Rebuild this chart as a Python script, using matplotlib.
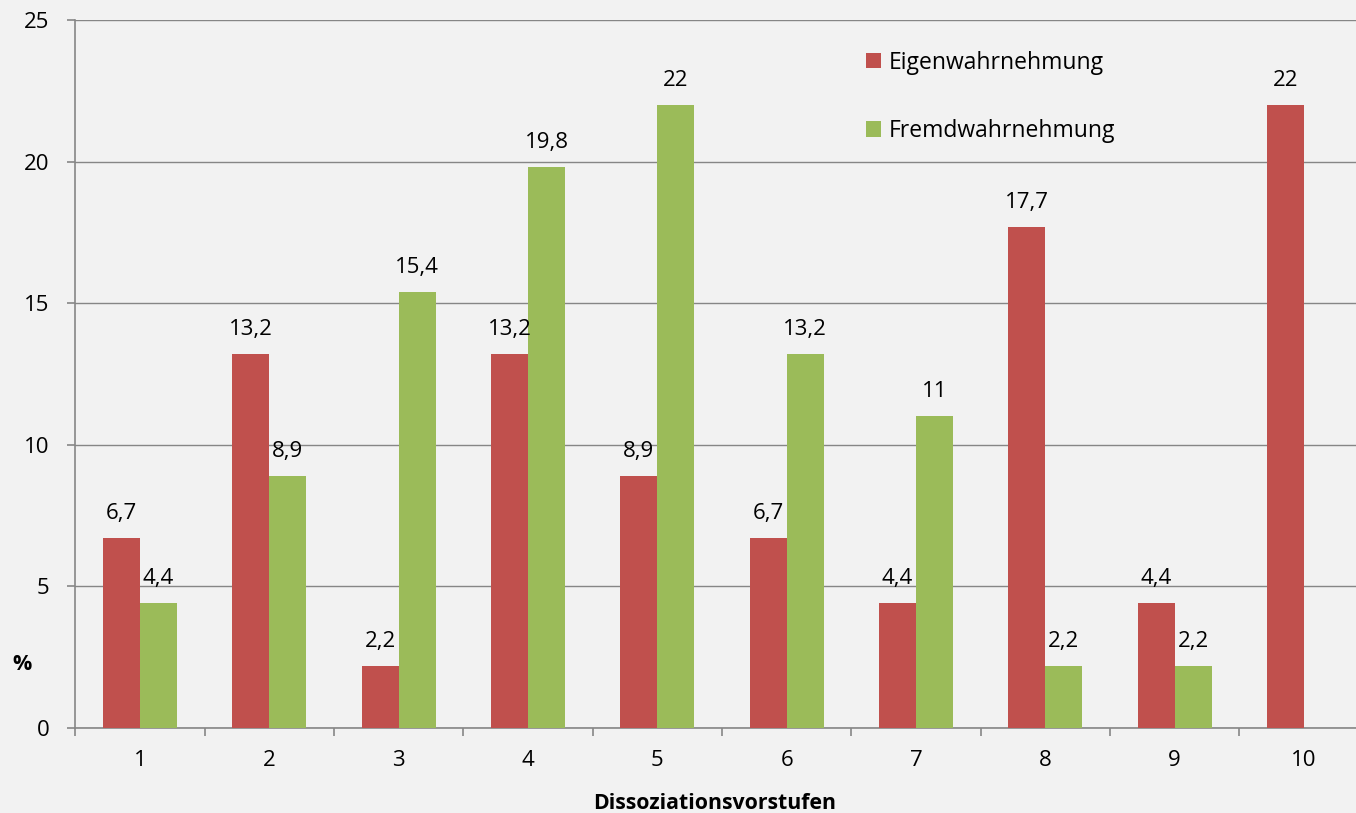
import matplotlib
matplotlib.use("Agg")
import matplotlib.pyplot as plt
from matplotlib.patches import Patch
import numpy as np

categories = ["1", "2", "3", "4", "5", "6", "7", "8", "9", "10"]
eigen = [6.7, 13.2, 2.2, 13.2, 8.9, 6.7, 4.4, 17.7, 4.4, 22]
fremd = [4.4, 8.9, 15.4, 19.8, 22, 13.2, 11, 2.2, 2.2, None]
series_names = ["Eigenwahrnehmung", "Fremdwahrnehmung"]
yticks = [0, 5, 10, 15, 20, 25]

RED = "#C0504D"
GREEN = "#9BBB59"
BG = "#F2F2F2"
GRID = "#868686"
FS = 16

plt.rcParams["font.family"] = ["Open Sans", "DejaVu Sans"]

fig = plt.figure(figsize=(13.56, 8.13), dpi=100, facecolor=BG)
ax = fig.add_axes([75.3 / 1356, 1 - 728 / 813, 1293.4 / 1356, 708 / 813])
ax.set_facecolor(BG)

x = np.arange(1, len(categories) + 1)
w = 0.287

def fmt(v):
    return f"{v:g}".replace(".", ",")

def draw_series(values, offset, color):
    for xi, v in zip(x, values):
        if v is None:
            continue
        ax.bar(xi + offset, v, width=w, color=color, zorder=3)
        ax.annotate(fmt(v), (xi + offset, v), xytext=(0, 19),
                    textcoords="offset pixels", ha="center", va="baseline",
                    fontsize=FS, color="#000000", zorder=4)

draw_series(eigen, -w / 2, RED)
draw_series(fremd, w / 2, GREEN)

ax.set_xlim(0.5, 10.5)
ax.set_ylim(0, 25)
ax.set_yticks(yticks)
ax.set_yticklabels([str(t) for t in yticks], fontsize=FS)
ax.yaxis.grid(True, color=GRID, linewidth=1.0, zorder=0)
ax.set_axisbelow(True)

ax.set_xticks(x)
ax.set_xticklabels(categories, fontsize=FS)
ax.tick_params(axis="x", which="major", length=0, pad=16)
ax.set_xticks(np.arange(0.5, 10.6, 1.0), minor=True)
ax.tick_params(axis="x", which="minor", length=6, width=1.2, color=GRID, direction="out")
ax.tick_params(axis="y", length=6, width=1.2, color=GRID, pad=12.5)

for side in ["top", "right"]:
    ax.spines[side].set_visible(False)
for side in ["left", "bottom"]:
    ax.spines[side].set_color(GRID)
    ax.spines[side].set_linewidth(1.2)

fig.text(22 / 1356, 1 - 664 / 813, "%", fontsize=FS - 0.5, fontweight="bold",
         ha="center", va="center")
fig.text(715 / 1356, 1 - 803 / 813, "Dissoziationsvorstufen", fontsize=15.3,
         fontweight="bold", ha="center", va="center")

handles = [Patch(facecolor=RED, edgecolor="none"), Patch(facecolor=GREEN, edgecolor="none")]
leg = fig.legend(handles, series_names, loc="upper left",
                 bbox_to_anchor=(845 / 1356, 1 - 30 / 813), frameon=False,
                 fontsize=16.5, handlelength=0.68, handleheight=0.68,
                 handletextpad=0.35, labelspacing=1.95)

fig.savefig("out.png", dpi=100, facecolor=BG)
